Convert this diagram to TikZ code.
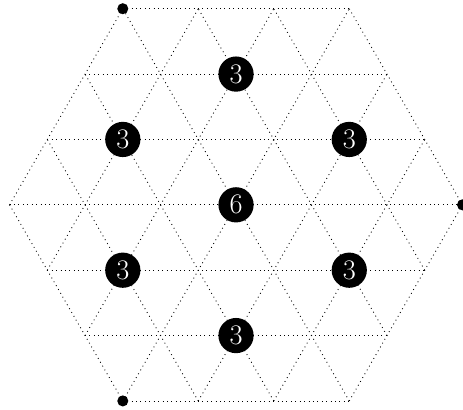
\documentclass[tikz,border=0pt]{standalone}
\begin{document}
\begin{tikzpicture}[
    gridline/.style={
        dotted,
        line width=0.5pt
    },
    count/.style={
        circle,
        fill=black,
        text=white,
        inner sep=0pt,
        minimum size=0.7cm,
        font=\fontsize{16}{18}\selectfont
    },
    corner/.style={
        circle,
        fill=black,
        inner sep=0pt,
        minimum size=0.22cm
    }
]

\useasboundingbox (-4.69,-4.07) rectangle (4.51,4.07);

% triangular grid in the hexagon, three directions
\foreach \ang in {0,60,120} {
  \foreach \j in {-3,...,3} {
    \pgfmathsetmacro{\half}{(6-abs(\j))*0.75}
    \draw[gridline, rotate=\ang] (-\half,\j*1.299) -- (\half,\j*1.299);
  }
}

\node[count] (top) at (0,2.598) {3};
\node[count] (upleft) at (-2.25,1.299) {3};
\node[count] (upright) at (2.25,1.299) {3};
\node[count] (mid) at (0,0) {6};
\node[count] (lowleft) at (-2.25,-1.299) {3};
\node[count] (lowright) at (2.25,-1.299) {3};
\node[count] (bottom) at (0,-2.598) {3};

\node[corner] (cnw) at (-2.25,3.897) {};
\node[corner] (csw) at (-2.25,-3.897) {};
\node[corner] (ce) at (4.5,0) {};

\end{tikzpicture}
\end{document}
